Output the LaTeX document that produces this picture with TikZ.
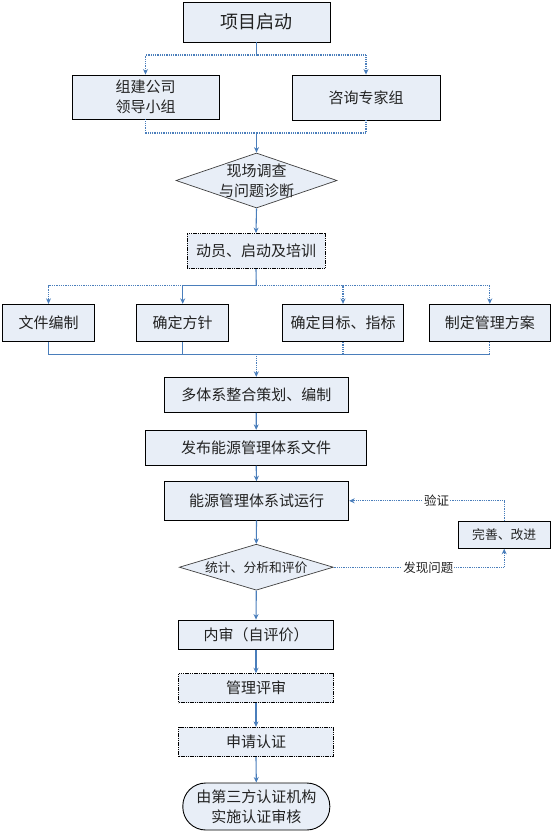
\documentclass[tikz,border=0pt]{standalone}
\usepackage{fontspec}
\setmainfont{Noto Sans CJK SC}
\usetikzlibrary{shapes.geometric,arrows.meta}
\definecolor{boxfill}{HTML}{E8EEF7}
\definecolor{linkblue}{HTML}{4A7EBB}
\definecolor{txt}{HTML}{222222}
\begin{document}
\begin{tikzpicture}[x=1pt,y=-1pt,
  box/.style={draw=black, line width=0.9pt, fill=boxfill, inner sep=0pt, text=txt,
    font=\fontsize{15}{20}\selectfont, align=center},
  dotbox/.style={box, dash pattern=on 1.2pt off 0.6pt},
  dia/.style={draw=black!75, line width=0.7pt, fill=boxfill, shape=diamond, inner sep=0pt},
  diatext/.style={text=txt, align=center, inner sep=0pt},
  conn/.style={draw=linkblue, line width=1.1pt},
  arr/.style={conn, -{Stealth[length=5.5pt,width=5pt]}},
  dots/.style={dash pattern=on 1pt off 0.8pt},
  lbl/.style={fill=white, text=txt, inner sep=1pt, font=\fontsize{12.5}{14}\selectfont}
]
\useasboundingbox (0,0) rectangle (553,833);

% nodes
\node[box, minimum width=147pt, minimum height=40pt, font=\fontsize{18}{22}\selectfont] (n1) at (256.5,22) {项目启动};
\node[box, minimum width=147pt, minimum height=44pt] (n2a) at (145.5,97) {组建公司\\领导小组};
\node[box, minimum width=148pt, minimum height=45pt] (n2b) at (366,97.5) {咨询专家组};
\node[dia, minimum width=161pt, minimum height=55pt] (d1) at (256.5,180.5) {};
\node[diatext, font=\fontsize{15}{20}\selectfont] (d1t) at (d1.center) {现场调查\\与问题诊断};
\node[dotbox, minimum width=138pt, minimum height=35pt] (n4) at (256,251) {动员、启动及培训};
\node[box, minimum width=92pt, minimum height=37pt] (n5a) at (48.5,322.8) {文件编制};
\node[box, minimum width=92pt, minimum height=37pt] (n5b) at (182.7,322.8) {确定方针};
\node[box, minimum width=121pt, minimum height=37pt] (n5c) at (343,322.8) {确定目标、指标};
\node[box, minimum width=121pt, minimum height=37pt] (n5d) at (489.8,322.8) {制定管理方案};
\node[box, minimum width=184.7pt, minimum height=35pt] (n6) at (256.3,394.8) {多体系整合策划、编制};
\node[box, minimum width=221pt, minimum height=35pt] (n7) at (256.2,447.8) {发布能源管理体系文件};
\node[box, minimum width=184.4pt, minimum height=38.3pt] (n8) at (256.5,500.8) {能源管理体系试运行};
\node[dia, minimum width=154pt, minimum height=46pt] (d2) at (256.3,567.2) {};
\node[diatext, font=\fontsize{12.8}{15}\selectfont] (d2t) at (d2.center) {统计、分析和评价};
\node[box, minimum width=91.7pt, minimum height=26.6pt, font=\fontsize{12.8}{15}\selectfont] (n10) at (504.2,535) {完善、改进};
\node[box, minimum width=154.6pt, minimum height=29.3pt] (n11) at (256,634.7) {内审（自评价）};
\node[dotbox, minimum width=154.6pt, minimum height=29pt] (n12) at (256,688.2) {管理评审};
\node[dotbox, minimum width=154.6pt, minimum height=29.4pt] (n13) at (256,742) {申请认证};
\node[box, minimum width=147pt, minimum height=47pt, rounded corners=23pt] (n14) at (256.3,806.5) {由第三方认证机构\\实施认证审核};

% junction coordinates
\coordinate (j1) at (256.5,55);
\coordinate (j2) at (256.5,133);
\coordinate (j3) at (256.3,285.7);
\coordinate (j4) at (256.3,354.3);

% connectors
\draw[conn] (n1.south) -- (j1);
\draw[arr, dots] (j1) -| (n2a.north);
\draw[arr, dots] (j1) -| (n2b.north);
\draw[conn, dots] (n2a.south) |- (j2);
\draw[conn, dots] (n2b.south) |- (j2);
\draw[arr] (j2) -- (d1.north);
\draw[arr] (d1.south) -- (n4.north);
\draw[conn] (n4.south) -- (j3);
\draw[arr, dots] (j3) -| (n5a.north);
\draw[arr] (j3) -| (n5b.north);
\draw[arr, dots] (j3) -| (n5c.north);
\draw[arr, dots] (j3) -| (n5d.north);
\draw[conn] (n5a.south) |- (j4);
\draw[conn] (n5b.south) |- (j4);
\draw[conn, dots] (n5c.south) -- (n5c.south |- j4);
\draw[conn] (n5c.south |- j4) -- (j4);
\draw[conn, dots] (n5d.south) -- (n5d.south |- j4);
\draw[conn] (n5d.south |- j4) -- (n5c.south |- j4);
\draw[arr, dots] (j4) -- (n6.north);
\draw[arr] (n6.south) -- (n7.north);
\draw[arr] (n7.south) -- (n8.north);
\draw[arr] (n8.south) -- (d2.north);
\draw[arr] (d2.south) -- (n11.north);
\draw[arr] (n11.south) -- (n12.north);
\draw[arr] (n12.south) -- (n13.north);
\draw[arr] (n13.south) -- (n14.north);
\draw[arr, dots] (d2.east) -| (n10.south);
\draw[arr, dots] (n10.north) |- (n8.east);

% labels
\node[lbl] (l1) at (428.3,567.3) {发现问题};
\node[lbl] (l2) at (436.7,500.7) {验证};
\end{tikzpicture}
\end{document}
